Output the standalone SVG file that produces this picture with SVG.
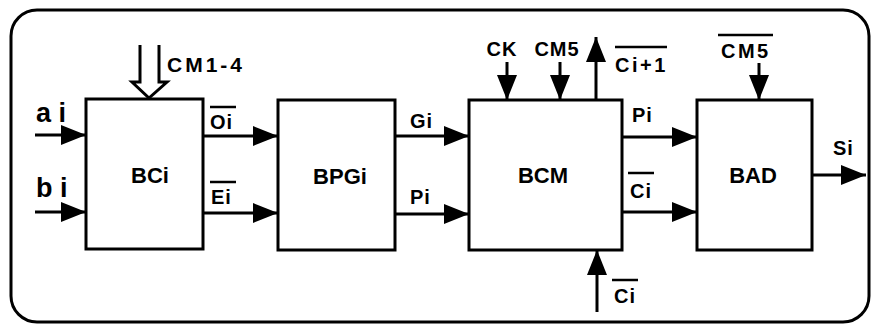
<svg xmlns="http://www.w3.org/2000/svg" width="872" height="325" viewBox="0 0 872 325">
<style>
.frame{fill:none;stroke:#000;stroke-width:3}
.box rect{fill:#fff;stroke:#000;stroke-width:3}
.conn{fill:none;stroke:#000;stroke-width:3}
.ovl{stroke:#000;stroke-width:2.5}
text{font-family:"Liberation Sans",Arial,sans-serif;font-weight:bold;fill:#000}
.big{font-size:22px}
.lbl{font-size:20px;letter-spacing:1px}
.io{font-size:27px}
</style>
<defs>
<marker id="ah" markerUnits="userSpaceOnUse" markerWidth="26" markerHeight="20" refX="25" refY="10" orient="auto">
<path d="M0,0 L25,10 L0,20 z" fill="#000"/>
</marker>
</defs>
<rect width="872" height="325" fill="#fff"/>
<rect class="frame" x="11" y="10" width="858" height="312" rx="26"/>

<g id="BCi" class="box"><rect x="86" y="99" width="117" height="150"/><text class="big" x="150" y="183" text-anchor="middle">BCi</text></g>
<g id="BPGi" class="box"><rect x="278" y="100" width="117" height="150"/><text class="big" x="340" y="184" text-anchor="middle">BPGi</text></g>
<g id="BCM" class="box"><rect x="469" y="100" width="153" height="150"/><text class="big" x="543" y="183" text-anchor="middle">BCM</text></g>
<g id="BAD" class="box"><rect x="697" y="100" width="115" height="150"/><text class="big" x="753" y="183" text-anchor="middle">BAD</text></g>

<g id="connectors" class="conn">
<path d="M35,135 H86" marker-end="url(#ah)"/>
<path d="M35,212 H86" marker-end="url(#ah)"/>
<path d="M203,136 H278" marker-end="url(#ah)"/>
<path d="M203,213 H278" marker-end="url(#ah)"/>
<path d="M395,136 H469" marker-end="url(#ah)"/>
<path d="M395,214 H469" marker-end="url(#ah)"/>
<path d="M622,137 H697" marker-end="url(#ah)"/>
<path d="M622,212 H697" marker-end="url(#ah)"/>
<path d="M812,175 H866" marker-end="url(#ah)"/>
<path d="M507,62 V100" marker-end="url(#ah)"/>
<path d="M560,62 V100" marker-end="url(#ah)"/>
<path d="M596,100 V37" marker-end="url(#ah)"/>
<path d="M597,312 V250" marker-end="url(#ah)"/>
<path d="M759,63 V100" marker-end="url(#ah)"/>
<path d="M140,45 V82 L132,82 L149,98 L167,82 L159,82 V45" fill="#fff"/>
</g>

<g id="labels">
<text class="io" x="36" y="122">a i</text>
<text class="io" x="36" y="197">b i</text>
<text x="167" y="72" style="font-size:21px;letter-spacing:3px">CM1-4</text>
<line class="ovl" x1="210" y1="107" x2="236" y2="107"/><text class="lbl" x="210" y="129">Oi</text>
<line class="ovl" x1="210" y1="182" x2="236" y2="182"/><text class="lbl" x="211" y="204">Ei</text>
<text class="lbl" x="410" y="128">Gi</text>
<text class="lbl" x="410" y="204">Pi</text>
<text class="lbl" x="502" y="56" text-anchor="middle">CK</text>
<text class="lbl" x="557" y="56" text-anchor="middle">CM5</text>
<line class="ovl" x1="615" y1="47" x2="667" y2="47"/><text class="lbl" x="615" y="72" style="letter-spacing:2.5px">Ci+1</text>
<text class="lbl" x="632" y="122">Pi</text>
<line class="ovl" x1="628" y1="173" x2="654" y2="173"/><text class="lbl" x="630" y="198">Ci</text>
<line class="ovl" x1="612" y1="280" x2="638" y2="280"/><text class="lbl" x="614" y="303">Ci</text>
<line class="ovl" x1="718" y1="35" x2="773" y2="35"/><text class="lbl" x="721" y="58" style="letter-spacing:2.5px">CM5</text>
<text class="lbl" x="833" y="155">Si</text>
</g>
</svg>
